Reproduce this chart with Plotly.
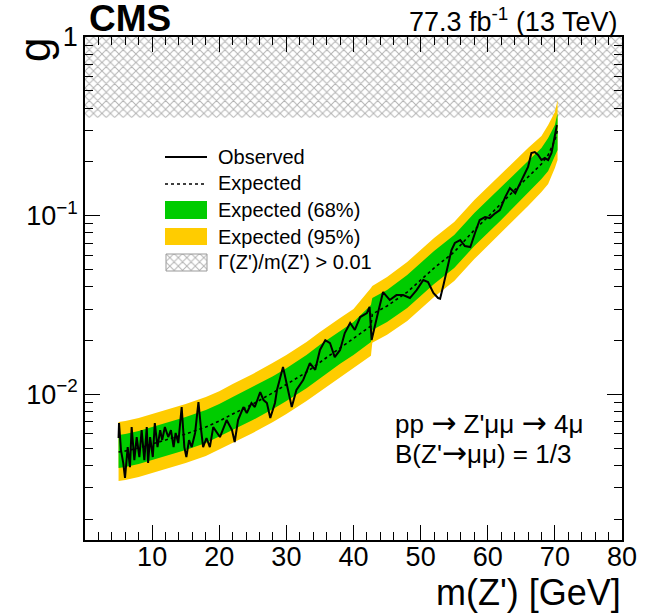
import plotly.graph_objects as go

# ---------------- data ----------------
mass_band = [5, 6, 8, 10, 12, 15, 18, 20, 22, 25, 28, 30, 33, 35, 38, 40, 42.6, 42.8,
             45, 48, 50, 52, 55, 58, 60, 62, 64, 66, 68, 69, 70, 70.4]
expected = [0.00475, 0.00481, 0.00500, 0.00526, 0.00554, 0.00599, 0.00655, 0.00708,
            0.00775, 0.00881, 0.0102, 0.0113, 0.0133, 0.0151, 0.0181, 0.0204, 0.0241,
            0.0281, 0.0312, 0.0373, 0.0436, 0.0509, 0.0625, 0.0831, 0.0982, 0.1161,
            0.1391, 0.1645, 0.1945, 0.2184, 0.2651, 0.3015]
band95_up = [0.00699, 0.00708, 0.00736, 0.00775, 0.00816, 0.00881, 0.00964, 0.0104,
             0.0114, 0.0130, 0.0150, 0.0166, 0.0196, 0.0223, 0.0267, 0.0300, 0.0393,
             0.0403, 0.0453, 0.0550, 0.0642, 0.0749, 0.0921, 0.1223, 0.1446, 0.1710,
             0.2048, 0.2390, 0.2791, 0.3216, 0.3802, 0.4439]
band68_up = [0.00591, 0.00599, 0.00622, 0.00655, 0.00690, 0.00745, 0.00816, 0.00881,
             0.00964, 0.0110, 0.0126, 0.0140, 0.0166, 0.0189, 0.0226, 0.0254, 0.0316,
             0.0346, 0.0383, 0.0465, 0.0543, 0.0634, 0.0779, 0.1034, 0.1223, 0.1446,
             0.1732, 0.2022, 0.2390, 0.2720, 0.3216, 0.3754]
band68_lo = [0.00386, 0.00391, 0.00407, 0.00428, 0.00451, 0.00487, 0.00533, 0.00576,
             0.00630, 0.00717, 0.00826, 0.00916, 0.0108, 0.0123, 0.0148, 0.0166, 0.0196,
             0.0229, 0.0254, 0.0304, 0.0355, 0.0414, 0.0509, 0.0676, 0.0799, 0.0945,
             0.1132, 0.1339, 0.1603, 0.1778, 0.2157, 0.2330]
band95_lo = [0.00327, 0.00331, 0.00344, 0.00362, 0.00381, 0.00412, 0.00451, 0.00487,
             0.00533, 0.00607, 0.00699, 0.00775, 0.00916, 0.0104, 0.0125, 0.0140, 0.0164,
             0.0194, 0.0215, 0.0257, 0.0300, 0.0350, 0.0430, 0.0571, 0.0676, 0.0799,
             0.0957, 0.1132, 0.1356, 0.1503, 0.1847, 0.2048]

obs_mass = [5.0, 5.07, 5.36, 5.7, 5.96, 6.36, 6.7, 6.95, 7.35, 7.7, 8.1, 8.44, 8.84, 9.2,
            9.4, 9.7, 10.1, 10.4, 10.8, 11.2, 11.5, 11.9, 12.4, 12.8, 13.2, 13.5, 13.9,
            14.4, 14.8, 15.1, 15.5, 15.9, 16.4, 16.9, 17.3, 17.6, 18.1, 18.6, 19.1, 20.1,
            21.1, 21.9, 22.3, 22.8, 23.6, 24.1, 24.8, 25.3, 26.1, 26.6, 27.1, 27.6, 28.3,
            28.6, 29.5, 30.3, 30.8, 31.5, 32.5, 33.5, 34.3, 35.0, 35.8, 36.5, 37.2, 38.0,
            38.7, 39.5, 40.2, 41.0, 42.0, 42.4, 42.7, 43.5, 44.4, 45.4, 46.4, 47.4, 48.4,
            49.4, 50.4, 51.1, 51.9, 52.6, 52.9, 53.4, 53.9, 54.6, 55.1, 55.9, 56.6, 57.4,
            58.1, 58.8, 59.6, 60.3, 61.1, 61.8, 62.6, 63.3, 64.1, 64.8, 65.5, 66.0, 66.5,
            67.0, 67.5, 68.0, 68.5, 69.0, 69.5, 69.9, 70.3]
observed = [0.00569, 0.00690, 0.00487, 0.00412, 0.00340, 0.00506, 0.00391, 0.00655,
            0.00428, 0.00576, 0.00445, 0.00630, 0.00428, 0.00655, 0.00412, 0.00576,
            0.00445, 0.00690, 0.00506, 0.00630, 0.00554, 0.00655, 0.00576, 0.00630,
            0.00506, 0.00607, 0.00533, 0.00848, 0.00506, 0.00445, 0.00554, 0.00506,
            0.00607, 0.00904, 0.00630, 0.00506, 0.00569, 0.00506, 0.00655, 0.00576,
            0.00717, 0.00630, 0.00540, 0.00717, 0.00848, 0.00785, 0.00893, 0.00848,
            0.01029, 0.00928, 0.00893, 0.00736, 0.00893, 0.01056, 0.01420, 0.01016,
            0.00848, 0.01056, 0.01200, 0.01495, 0.01370, 0.01770, 0.02010, 0.01935,
            0.01615, 0.01770, 0.02202, 0.02504, 0.02290, 0.02706, 0.02849, 0.03078,
            0.02010, 0.02706, 0.03735, 0.03370, 0.03590, 0.03590, 0.03457, 0.03830,
            0.04360, 0.04249, 0.03687, 0.03457, 0.0343, 0.0409, 0.0496, 0.0642, 0.0703,
            0.0730, 0.0676, 0.0667, 0.0799, 0.0945, 0.0982, 0.0969, 0.1030, 0.1075,
            0.1270, 0.1427, 0.1335, 0.1522, 0.1732, 0.1871, 0.2241, 0.2270, 0.2184,
            0.2048, 0.2101, 0.2048, 0.2241, 0.2651, 0.3216]

width_mass = [0, 80]          # Gamma(Z')/m(Z') > 0.01 excluded region
width_g_low = 0.353
width_g_high = 1.0

x_ticks = [10, 20, 30, 40, 50, 60, 70, 80]
y_ticks = [0.01, 0.1, 1]
y_ticktext = ["10<sup>\u22122</sup>", "10<sup>\u22121</sup>", "1"]
y_minor = [m * 10 ** e for e in (-3, -2, -1) for m in range(2, 10)]

legend_labels = ["Observed", "Expected", "Expected (68%)", "Expected (95%)",
                 "\u0393(Z')/m(Z') > 0.01"]

GREEN = "#00CC00"
YELLOW = "#FFCC00"
HATCH = "#666666"
FONT = "Liberation Sans, Arial, Helvetica, sans-serif"

# ---------------- geometry (page pixels) ----------------
W, H = 648, 614
L, R, T, B = 85, 622, 37, 540


def px(x):
    return (x - L) / (R - L)


def py(y):
    return (B - y) / (B - T)


fig = go.Figure()

# hatched excluded region
fig.add_trace(go.Scatter(
    x=[width_mass[0], width_mass[1], width_mass[1], width_mass[0], width_mass[0]],
    y=[width_g_low, width_g_low, width_g_high, width_g_high, width_g_low],
    mode="lines", line=dict(width=0), fill="toself", fillcolor="white",
    fillpattern=dict(shape="x", fgcolor=HATCH, bgcolor="white", size=6, solidity=0.3),
    hoverinfo="skip", showlegend=False))

# 95% band
fig.add_trace(go.Scatter(
    x=mass_band + mass_band[::-1], y=band95_up + band95_lo[::-1],
    mode="lines", line=dict(width=0), fill="toself", fillcolor=YELLOW,
    hoverinfo="skip", showlegend=False))
# 68% band
fig.add_trace(go.Scatter(
    x=mass_band + mass_band[::-1], y=band68_up + band68_lo[::-1],
    mode="lines", line=dict(width=0), fill="toself", fillcolor=GREEN,
    hoverinfo="skip", showlegend=False))
# expected
fig.add_trace(go.Scatter(x=mass_band, y=expected, mode="lines",
                         line=dict(color="black", width=1.6, dash="3px,3px"),
                         showlegend=False))
# observed
fig.add_trace(go.Scatter(x=obs_mass, y=observed, mode="lines",
                         line=dict(color="black", width=2), showlegend=False))

# legend hatch box drawn on an overlay axis in paper-like units
hx0, hx1, hy0, hy1 = px(166), px(207), py(271), py(254)
fig.add_trace(go.Scatter(
    x=[hx0, hx1, hx1, hx0, hx0], y=[hy0, hy0, hy1, hy1, hy0],
    xaxis="x2", yaxis="y2", mode="lines", line=dict(width=1, color="#999999"),
    fill="toself", fillcolor="white",
    fillpattern=dict(shape="x", fgcolor=HATCH, bgcolor="white", size=6, solidity=0.3),
    hoverinfo="skip", showlegend=False))

axis_common = dict(showline=True, linecolor="black", linewidth=1.5, mirror="allticks",
                   ticks="inside", tickcolor="black", tickwidth=1.2, showgrid=False,
                   zeroline=False, tickfont=dict(family=FONT, size=27, color="black"))

fig.update_layout(
    width=W, height=H,
    margin=dict(l=L, r=W - R, t=T, b=H - B),
    paper_bgcolor="white", plot_bgcolor="white",
    showlegend=False,
    xaxis=dict(range=[0, 80], tickvals=x_ticks, ticklen=15, ticklabelstandoff=-8,
               minor=dict(ticks="inside", ticklen=8, dtick=2, tick0=0,
                          tickcolor="black", tickwidth=1.2, showgrid=False),
               **axis_common),
    yaxis=dict(type="log", range=[-2.816, 0], tickvals=y_ticks, ticktext=y_ticktext,
               ticklen=15,
               minor=dict(ticks="inside", ticklen=8, tickvals=y_minor,
                          tickcolor="black", tickwidth=1.2, showgrid=False),
               **axis_common),
    xaxis2=dict(range=[0, 1], overlaying="x", visible=False, fixedrange=True),
    yaxis2=dict(range=[0, 1], overlaying="y", visible=False, fixedrange=True),
)

shapes = []
# legend line samples
shapes.append(dict(type="line", xref="paper", yref="paper", x0=px(165), x1=px(207),
                   y0=py(157), y1=py(157), line=dict(color="black", width=2)))
shapes.append(dict(type="line", xref="paper", yref="paper", x0=px(165), x1=px(207),
                   y0=py(184), y1=py(184), line=dict(color="black", width=1.6, dash="3px,3px")))
shapes.append(dict(type="rect", xref="paper", yref="paper", x0=px(165), x1=px(207),
                   y0=py(219), y1=py(201), fillcolor=GREEN, line=dict(width=0)))
shapes.append(dict(type="rect", xref="paper", yref="paper", x0=px(165), x1=px(207),
                   y0=py(245), y1=py(228), fillcolor=YELLOW, line=dict(width=0)))
fig.update_layout(shapes=shapes)

ann = []
for lab, yy in zip(legend_labels, [157, 183, 210, 236.5, 262]):
    ann.append(dict(text=lab, x=px(216), y=py(yy), xref="paper", yref="paper",
                    xanchor="left", yanchor="middle", showarrow=False,
                    font=dict(family=FONT, size=20, color="black")))

ARROW = "<span style='font-family:DejaVu Sans;font-size:30px'>\u2192</span>"
ann.append(dict(text="<b>CMS</b>", x=px(87), y=py(19), xref="paper", yref="paper",
                xanchor="left", yanchor="middle", showarrow=False,
                font=dict(family=FONT, size=37, color="black")))
ann.append(dict(text="77.3 fb<sup>-1</sup> (13 TeV)", x=px(619), y=py(20), xref="paper",
                yref="paper", xanchor="right", yanchor="middle", showarrow=False,
                font=dict(family=FONT, size=27, color="black")))
ann.append(dict(text="m(Z') [GeV]", x=px(623), y=py(592), xref="paper", yref="paper",
                xanchor="right", yanchor="middle", showarrow=False,
                font=dict(family=FONT, size=36, color="black")))
ann.append(dict(text="g", x=px(34), y=py(50), xref="paper", yref="paper",
                xanchor="center", yanchor="middle", textangle=-90, showarrow=False,
                font=dict(family=FONT, size=44, color="black")))
ann.append(dict(text="pp " + ARROW + " Z'\u03bc\u03bc " + ARROW + " 4\u03bc", x=px(393),
                y=py(422), xref="paper", yref="paper", xanchor="left", yanchor="middle",
                showarrow=False, font=dict(family=FONT, size=26, color="black")))
ann.append(dict(text="B(Z'" + ARROW + "\u03bc\u03bc) = 1/3", x=px(393), y=py(452),
                xref="paper", yref="paper", xanchor="left", yanchor="middle",
                showarrow=False, font=dict(family=FONT, size=26, color="black")))
fig.update_layout(annotations=ann)

fig.write_html("out.html", config={"displayModeBar": False},
               post_script="document.body.style.margin='0';"
                           "document.body.style.overflow='hidden';")
